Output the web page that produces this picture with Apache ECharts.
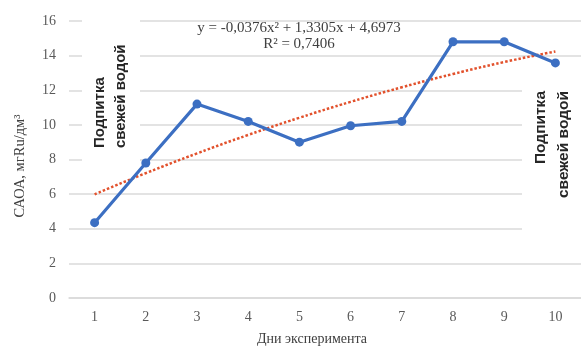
<!DOCTYPE html>
<html><head><meta charset="utf-8">
<script src="https://cdn.jsdelivr.net/npm/echarts@6/dist/echarts.min.js"></script>
<style>html,body{margin:0;padding:0;background:#fff;}#c{width:581px;height:348px;}</style>
</head><body><div id="c"></div>
<script>
var days = ['1','2','3','4','5','6','7','8','9','10'];
var caoa = [4.35, 7.8, 11.2, 10.2, 9.0, 9.95, 10.2, 14.8, 14.8, 13.58];
var trend = [5.99, 7.21, 8.35, 9.42, 10.41, 11.33, 12.17, 12.94, 13.63, 14.24];
var yTicks = [0, 2, 4, 6, 8, 10, 12, 14, 16];
var equation = 'y = -0,0376x² + 1,3305x + 4,6973';
var r2 = 'R² = 0,7406';
var noteLines = ['Подпитка', 'свежей водой'];
var yTitle = 'САОА, мгRu/дм³';
var xTitle = 'Дни эксперимента';

var chart = echarts.init(document.getElementById('c'), null, {renderer: 'canvas'});
var serif = '"Liberation Serif", "DejaVu Serif", serif';
var sans = '"Liberation Sans", Arial, sans-serif';
chart.setOption({
  animation: false,
  backgroundColor: '#fff',
  grid: {left: 69, right: -4, top: 21, bottom: 50},
  xAxis: {
    type: 'category', data: days, boundaryGap: true,
    axisLine: {show: true, lineStyle: {color: '#dadada', width: 1.5}},
    axisTick: {show: false},
    axisLabel: {color: '#595959', fontFamily: serif, fontSize: 14, margin: 12}
  },
  yAxis: {
    type: 'value', min: yTicks[0], max: yTicks[yTicks.length - 1], interval: 2,
    axisLine: {show: false}, axisTick: {show: false},
    splitLine: {lineStyle: {color: '#dadada', width: 1.5}},
    axisLabel: {color: '#595959', fontFamily: serif, fontSize: 14, margin: 13}
  },
  graphic: [
    {type: 'rect', z: 1, shape: {x: 82, y: 12, width: 58, height: 158}, style: {fill: '#fff'}},
    {type: 'rect', z: 1, shape: {x: 522, y: 70, width: 60, height: 175}, style: {fill: '#fff'}},
    {type: 'text', z: 5, rotation: Math.PI / 2, x: 100, y: 148,
      style: {text: noteLines[0], font: 'bold 15px ' + sans, fill: '#262626', textAlign: 'left', textVerticalAlign: 'middle'}},
    {type: 'text', z: 5, rotation: Math.PI / 2, x: 121, y: 148,
      style: {text: noteLines[1], font: 'bold 15px ' + sans, fill: '#262626', textAlign: 'left', textVerticalAlign: 'middle'}},
    {type: 'text', z: 5, rotation: Math.PI / 2, x: 541, y: 91,
      style: {text: noteLines[0], font: 'bold 15.5px ' + sans, fill: '#262626', textAlign: 'right', textVerticalAlign: 'middle'}},
    {type: 'text', z: 5, rotation: Math.PI / 2, x: 564, y: 91,
      style: {text: noteLines[1], font: 'bold 15.5px ' + sans, fill: '#262626', textAlign: 'right', textVerticalAlign: 'middle'}},
    {type: 'text', z: 5, x: 299, y: 28,
      style: {text: equation, font: '15px ' + serif, fill: '#404040', textAlign: 'center', textVerticalAlign: 'middle'}},
    {type: 'text', z: 5, x: 299, y: 44,
      style: {text: r2, font: '15px ' + serif, fill: '#404040', textAlign: 'center', textVerticalAlign: 'middle'}},
    {type: 'text', z: 5, x: 312, y: 339,
      style: {text: xTitle, font: '14px ' + serif, fill: '#404040', textAlign: 'center', textVerticalAlign: 'middle'}},
    {type: 'text', z: 5, rotation: Math.PI / 2, x: 20, y: 166,
      style: {text: yTitle, font: '14.5px ' + serif, fill: '#404040', textAlign: 'center', textVerticalAlign: 'middle'}}
  ],
  series: [
    {type: 'line', data: trend, z: 3, symbol: 'none', smooth: true,
      lineStyle: {color: '#e2512c', width: 2.5, type: [2.5, 2]}},
    {type: 'line', data: caoa, z: 4, symbol: 'circle', symbolSize: 9,
      itemStyle: {color: '#3c6fc2'},
      lineStyle: {color: '#3c6fc2', width: 3.2}}
  ]
});
</script></body></html>
